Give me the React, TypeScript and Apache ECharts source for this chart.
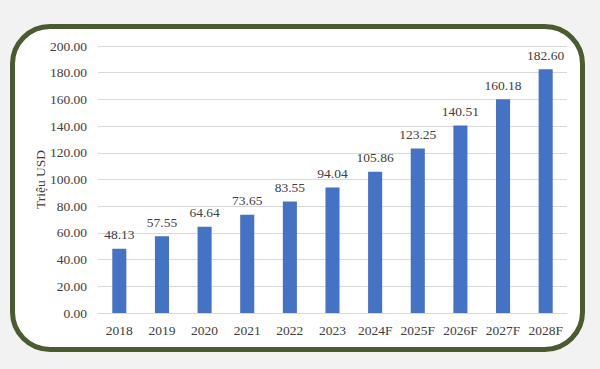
import React, { useEffect, useRef } from "react";
import * as echarts from "echarts";

const categories = ["2018", "2019", "2020", "2021", "2022", "2023", "2024F", "2025F", "2026F", "2027F", "2028F"];
const values = [48.13, 57.55, 64.64, 73.65, 83.55, 94.04, 105.86, 123.25, 140.51, 160.18, 182.6];
const axisName = "Triệu USD";

export default function App() {
  const ref = useRef<HTMLDivElement>(null);
  useEffect(() => {
    if (!ref.current) return;
    const chart = echarts.init(ref.current, null, { renderer: "svg" });
    const font = "'Liberation Serif', 'Times New Roman', serif";
    chart.setOption({
      animation: false,
      backgroundColor: "transparent",
      grid: { left: 98, right: 33, top: 46, bottom: 56 },
      xAxis: {
        type: "category",
        data: categories,
        axisLine: { lineStyle: { color: "#d9d9d9", width: 1 } },
        axisTick: { show: false },
        axisLabel: { interval: 0, color: "#404040", fontFamily: font, fontSize: 13.5, margin: 10 },
      },
      yAxis: {
        type: "value",
        min: 0,
        max: 200,
        interval: 20,
        name: axisName,
        nameLocation: "middle",
        nameGap: 51,
        nameMoveOverlap: false,
        nameRotate: 90,
        nameTextStyle: { color: "#404040", fontFamily: font, fontSize: 13.5 },
        axisLine: { show: false },
        axisTick: { show: false },
        splitLine: { lineStyle: { color: "#d9d9d9", width: 1 } },
        axisLabel: {
          color: "#404040",
          fontFamily: font,
          fontSize: 13.5,
          margin: 11,
          formatter: (v: number) => v.toFixed(2),
        },
      },
      series: [
        {
          type: "bar",
          data: values,
          barWidth: "33%",
          itemStyle: { color: "#4472c4" },
          label: {
            show: true,
            position: "top",
            distance: 7,
            color: "#404040",
            fontFamily: font,
            fontSize: 13.5,
            formatter: (p: any) => Number(p.value).toFixed(2),
          },
        },
      ],
    });
    return () => chart.dispose();
  }, []);
  return (
    <div style={{ position: "fixed", left: 0, top: 0, width: 600, height: 369, background: "#f2f2f2", overflow: "hidden" }}>
      <div
        style={{
          position: "absolute",
          left: 10,
          top: 24,
          width: 575,
          height: 328,
          boxSizing: "border-box",
          border: "5px solid #4b5b30",
          borderRadius: 40,
          background: "#ffffff",
        }}
      />
      <div ref={ref} style={{ position: "absolute", left: 0, top: 0, width: 600, height: 369 }} />
    </div>
  );
}
